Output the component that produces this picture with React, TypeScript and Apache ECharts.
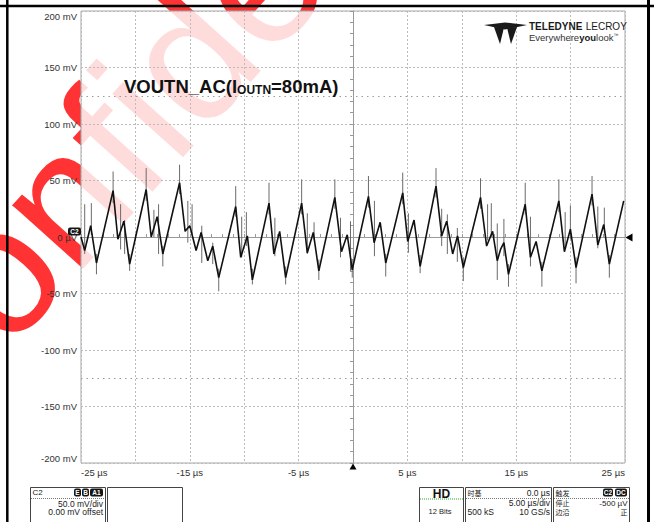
import React, { useEffect, useRef } from 'react';
import * as echarts from 'echarts';

// ---- data ----
const traceTimeUs = [
  -25, -24.66, -24.11, -23.58, -22.05, -21.61, -21.06, -20.53, -19.01, -18.55,
  -18.0, -17.48, -15.94, -15.43, -15.0, -14.42, -13.96, -13.35, -12.89, -12.34,
  -10.78, -10.32, -9.71, -9.25, -7.72, -7.27, -6.74, -6.19, -4.72, -4.2,
  -3.65, -3.14, -1.67, -1.06, -0.53, -0.07, 1.42, 1.94, 2.5, 3.01,
  4.57, 5.03, 5.61, 6.17, 7.63, 8.15, 8.61, 9.16, 9.61, 10.14,
  11.72, 12.28, 12.83, 13.26, 13.56, 13.87, 14.29, 15.83, 16.31, 16.83,
  17.36, 18.92, 19.43, 19.98, 20.5, 21.97, 22.5, 23.05, 23.56, 24.88,
];
const traceMv = [
  0, -12, 10, -23, 41, -2, 14, -24, 42, 0,
  18, -15, 48, 5, 10, -12, 4, -21, -8, -36,
  27, -18, 1, -38, 30, -15, 5, -36, 30, -14,
  4, -30, 35, -13, 2, -29, 36, -5, 13, -23,
  39, -4, 15, -26, 45, 1, 14, -15, 1, -27,
  35, -8, 5, -21, -11, -5, -33, 29, -18, -4,
  -30, 32, -13, 7, -27, 38, -7, 11, -24, 32,
];
const spikeTimeUs = [
  -22.05, -19.01, -15.94, -10.78, -7.72, -4.72, -1.67, 1.42, 4.57, 7.63, 11.72, 15.83, 18.92, 21.97,
  -23.58, -20.53, -17.48, -12.34, -9.25, -6.19, -3.14, -0.07, 3.01, 6.17, 10.14, 14.29, 17.36, 20.5, 23.56,
  -24.66, -24.05, -21.36, -20.99, -18.3, -17.87, -15.18, -14.79, -13.9, -12.89, -10.23, -9.8, -7.18, -4.2,
  -3.58, -1.15, -0.23, 1.97, 5.09, 8.15, 8.67, 9.59, 12.37, 12.71, 13.26, 13.87, 16.31, 19.5, 19.98, 22.5, 23.1,
];
const spikeLowMv = [
  30, 32, 38, 18, 20, 20, 25, 26, 29, 35, 25, 20, 22, 28,
  -33, -30, -26, -48, -42, -42, -38, -36, -35, -32, -39, -44, -44, -41, -36,
  -15, 2, -11, -15, 0, -15, -5, 2, -23, -24, -18, -8, -17, -15,
  -3, -18, -30, -17, -14, -8, -15, -22, -3, 0, -38, -17, -26, -8, -2, -10, 4,
];
const spikeHighMv = [
  58, 61, 64, 45, 48, 51, 51, 54, 57, 61, 52, 48, 51, 54,
  -15, -15, -8, -28, -28, -26, -20, -20, -15, -16, -18, -24, -22, -18, -16,
  29, 30, 29, 15, 24, 29, 32, 29, 10, -5, 18, 22, 17, 21,
  13, 17, 14, 32, 21, 25, 20, 8, 29, 30, 12, 16, 18, 22, 28, 27, 26,
];
const xLabelTimesUs = [-25, -15, -5, 5, 15, 25];
const refLevelsMv = [125, -125];
const triggerTimeUs = [0];
const triggerLevelMv = [-0.5];

const FONT = '"Liberation Sans", Arial, sans-serif';
const CJK = '"Noto Sans CJK SC", sans-serif';

// plot rectangle (pixels)
const PL = 81, PT = 11, PW = 544, PH = 452;

type O = { [k: string]: any };
const T = (x: number, y: number, text: string, o: O = {}) => ({
  type: 'text', x, y, z: o.z ?? 50, silent: true,
  style: {
    text, fill: o.fill || '#222', fontSize: o.size || 8.5, fontFamily: o.family || FONT,
    fontWeight: o.weight || 'normal', align: o.align || 'left', verticalAlign: o.va || 'middle',
  },
});
const R = (x: number, y: number, w: number, h: number, o: O = {}) => ({
  type: 'rect', z: o.z ?? 40, silent: true,
  shape: { x, y, width: w, height: h, r: o.r || 0 },
  style: { fill: o.fill || 'none', stroke: o.stroke || 'none', lineWidth: o.lw || 1 },
});
const L = (x1: number, y1: number, x2: number, y2: number, o: O = {}) => ({
  type: 'line', z: o.z ?? 40, silent: true,
  shape: { x1, y1, x2, y2 },
  style: { stroke: o.stroke || '#000', lineWidth: o.lw || 1, lineDash: o.dash },
});
const badge = (x: number, y: number, w: number, text: string) => [
  R(x, y, w, 8, { fill: '#151515', r: 2, z: 45 }),
  T(x + w / 2, y + 4.2, text, { fill: '#fff', size: 6.5, weight: 'bold', align: 'center', z: 52 }),
];

export default function App() {
  const ref = useRef<HTMLDivElement>(null);
  useEffect(() => {
    document.body.style.margin = '0';
    const chart = echarts.init(ref.current!, null, { renderer: 'svg' });

    const gridLine = { show: true, lineStyle: { color: '#bcbcbc', type: [2, 2], width: 1 } };

    const graphics: any[] = [
      // outer frame
      L(0, 6, 654, 6, { lw: 2.5, z: 60 }),
      L(7.3, 0, 7.3, 522, { lw: 2.5, z: 60 }),
      L(648.5, 0, 648.5, 522, { lw: 3, z: 60 }),
      // title
      {
        type: 'text', x: 124, y: 75, z: 50, silent: true,
        style: {
          text: '{a|VOUTN_AC(I}{b|OUTN}{a|=80mA)}',
          verticalAlign: 'top',
          rich: {
            a: { fontSize: 18.5, fontWeight: 'bold', fontFamily: FONT, fill: '#111', verticalAlign: 'bottom', lineHeight: 21 },
            b: { fontSize: 12, fontWeight: 'bold', fontFamily: FONT, fill: '#111', verticalAlign: 'bottom', lineHeight: 14 },
          },
        },
      },
      // logo
      { type: 'polygon', z: 50, silent: true, shape: { points: [[484, 25], [505, 22.5], [527, 25], [505, 29.5]] }, style: { fill: '#1a1a1a' } },
      { type: 'polygon', z: 50, silent: true, shape: { points: [[494, 27], [504, 27.5], [500, 44]] }, style: { fill: '#1a1a1a' } },
      { type: 'polygon', z: 50, silent: true, shape: { points: [[507, 27.5], [517, 27], [511, 44]] }, style: { fill: '#1a1a1a' } },
      {
        type: 'text', x: 529, y: 26, z: 50, silent: true,
        style: {
          text: '{b|TELEDYNE} {r|LECROY}', verticalAlign: 'middle',
          rich: {
            b: { fontSize: 10, fontWeight: 'bold', fontFamily: FONT, fill: '#1a1a1a' },
            r: { fontSize: 10, fontFamily: FONT, fill: '#1a1a1a' },
          },
        },
      },
      {
        type: 'text', x: 529, y: 37, z: 50, silent: true,
        style: {
          text: '{r|Everywhere}{b|you}{r|look}{t|™}', verticalAlign: 'middle',
          rich: {
            b: { fontSize: 9.5, fontWeight: 'bold', fontFamily: FONT, fill: '#1a1a1a' },
            r: { fontSize: 9.5, fontFamily: FONT, fill: '#333' },
            t: { fontSize: 5, fontFamily: FONT, fill: '#333', verticalAlign: 'top' },
          },
        },
      },
      // channel badge on the left
      R(68, 227.5, 13, 8, { fill: '#151515', r: 2, z: 45 }),
      T(74.5, 231.7, 'C2', { fill: '#fff', size: 6.5, weight: 'bold', align: 'center', z: 52 }),
      // bottom boxes
      R(30.5, 487.5, 75, 45, { stroke: '#444' }),
      T(32.5, 492, 'C2', { size: 8 }),
      ...badge(74, 488.5, 7, 'E'),
      ...badge(82, 488.5, 7, 'B'),
      ...badge(90, 488.5, 13, 'A1'),
      L(31, 498.5, 105, 498.5, { stroke: '#777', dash: [1, 1] }),
      T(103, 503.5, '50.0 mV/div', { align: 'right' }),
      T(103, 512, '0.00 mV offset', { align: 'right' }),
      R(107.5, 487.5, 75, 45, { stroke: '#444' }),
      R(419.5, 487.5, 44, 45, { stroke: '#444' }),
      T(441.5, 493.5, 'HD', { size: 12, weight: 'bold', align: 'center', fill: '#111' }),
      L(420, 499, 463, 499, { stroke: '#3a3', dash: [1, 1] }),
      T(440, 511, '12 Bits', { size: 7.5, align: 'center' }),
      R(465.5, 487.5, 86, 45, { stroke: '#444' }),
      T(467.5, 492.5, '时基', { size: 7, family: CJK }),
      T(550, 492.5, '0.0 µs', { align: 'right' }),
      L(466, 498.5, 551, 498.5, { stroke: '#777', dash: [1, 1] }),
      T(550, 503, '5.00 µs/div', { align: 'right' }),
      T(467.5, 511.5, '500 kS'),
      T(550, 511.5, '10 GS/s', { align: 'right' }),
      R(553.5, 487.5, 76, 45, { stroke: '#444' }),
      T(555.5, 492.5, '触发', { size: 7, family: CJK }),
      ...badge(603, 488.5, 10, 'C2'),
      ...badge(615, 488.5, 12, 'DC'),
      L(554, 498.5, 629, 498.5, { stroke: '#777', dash: [1, 1] }),
      T(555.5, 503, '停止', { size: 7, family: CJK }),
      T(627.5, 503, '-500 µV', { align: 'right', size: 8 }),
      T(555.5, 511.5, '边沿', { size: 7, family: CJK }),
      T(627.5, 511.5, '正', { size: 7, family: CJK, align: 'right' }),
    ];

    const option: any = {
      animation: false,
      backgroundColor: 'transparent',
      grid: {
        left: PL, top: PT, width: PW, height: PH, show: true,
        borderColor: '#a8a8a8', borderWidth: 1, backgroundColor: 'transparent',
      },
      xAxis: [
        {
          type: 'value', min: -25, max: 25, interval: 5, position: 'bottom',
          axisLine: { show: false, onZero: false }, axisTick: { show: false },
          splitLine: gridLine,
          axisLabel: {
            formatter: (v: number) => (xLabelTimesUs.includes(v) ? `${v} µs` : ''),
            color: '#333', fontSize: 9.5, fontFamily: FONT, margin: 4,
            alignMinLabel: 'left', alignMaxLabel: 'right', showMinLabel: true, showMaxLabel: true,
          },
        },
        {
          type: 'value', min: -25, max: 25, interval: 1, position: 'top',
          axisLine: { show: true, onZero: true, onZeroAxisIndex: 0, lineStyle: { color: '#999', width: 1 } },
          axisTick: { show: true, length: 3, lineStyle: { color: '#999' } },
          axisLabel: { show: false }, splitLine: { show: false },
        },
      ],
      yAxis: [
        {
          type: 'value', min: -200, max: 200, interval: 50, position: 'left',
          axisLine: { show: false, onZero: false }, axisTick: { show: false },
          splitLine: gridLine,
          axisLabel: {
            formatter: (v: number) => (v === 0 ? '0 µV' : `${v} mV`),
            color: '#333', fontSize: 9.5, fontFamily: FONT, margin: 4,
            verticalAlignMinLabel: 'bottom', verticalAlignMaxLabel: 'top',
          },
        },
        {
          type: 'value', min: -200, max: 200, interval: 10, position: 'right',
          axisLine: { show: true, onZero: true, onZeroAxisIndex: 0, lineStyle: { color: '#999', width: 1 } },
          axisTick: { show: true, inside: true, length: 3, lineStyle: { color: '#999' } },
          axisLabel: { show: false }, splitLine: { show: false },
        },
      ],
      series: [
        {
          type: 'custom', name: 'spikes', xAxisIndex: 0, yAxisIndex: 0, z: 6, silent: true,
          encode: { x: 0, y: [1, 2] },
          data: spikeTimeUs.map((t, i) => [t, spikeLowMv[i], spikeHighMv[i]]),
          renderItem: (_p: any, api: any) => {
            const a = api.coord([api.value(0), api.value(1)]);
            const b = api.coord([api.value(0), api.value(2)]);
            return {
              type: 'line',
              shape: { x1: a[0], y1: a[1], x2: b[0], y2: b[1] },
              style: { stroke: '#6a6a6a', lineWidth: 1 },
            };
          },
        },
        {
          type: 'line', name: 'C2', xAxisIndex: 0, yAxisIndex: 0, z: 7, silent: true,
          symbol: 'none',
          lineStyle: { color: '#111', width: 1.6 },
          data: traceTimeUs.map((t, i) => [t, traceMv[i]]),
          markLine: {
            silent: true, symbol: ['none', 'none'], label: { show: false },
            lineStyle: { color: '#9a9a9a', type: [1.5, 4], width: 1 },
            data: refLevelsMv.map((v) => ({ yAxis: v })),
          },
          markPoint: {
            silent: true, label: { show: false },
            data: [
              { coord: [triggerTimeUs[0], -200], symbol: 'triangle', symbolSize: [7, 6], symbolOffset: [0, 3.5], itemStyle: { color: '#000' } },
              { coord: [25, triggerLevelMv[0]], symbol: 'triangle', symbolRotate: 90, symbolSize: [8, 7], symbolOffset: [4, 0], itemStyle: { color: '#000' } },
            ],
          },
        },
      ],
      graphic: { elements: graphics },
    };

    chart.setOption(option);
    return () => chart.dispose();
  }, []);

  return (
    <div style={{ position: 'relative', width: 654, height: 522, background: '#fff', overflow: 'hidden' }}>
      {/* watermark behind the chart */}
      <div
        style={{
          position: 'absolute', left: -58, top: 468 - 180, height: 180, lineHeight: '180px',
          fontSize: 180, fontFamily: FONT, color: 'rgba(255,0,0,0.8)', whiteSpace: 'nowrap',
          transformOrigin: '0 100%', transform: 'rotate(-48.1deg)', pointerEvents: 'none',
        }}
      >
        Confidential
      </div>
      {/* translucent plot background that pales the watermark inside the plot */}
      <div style={{ position: 'absolute', left: PL, top: PT, width: PW, height: PH, background: 'rgba(255,255,255,0.83)' }} />
      <div ref={ref} style={{ position: 'absolute', left: 0, top: 0, width: 654, height: 522 }} />
    </div>
  );
}
